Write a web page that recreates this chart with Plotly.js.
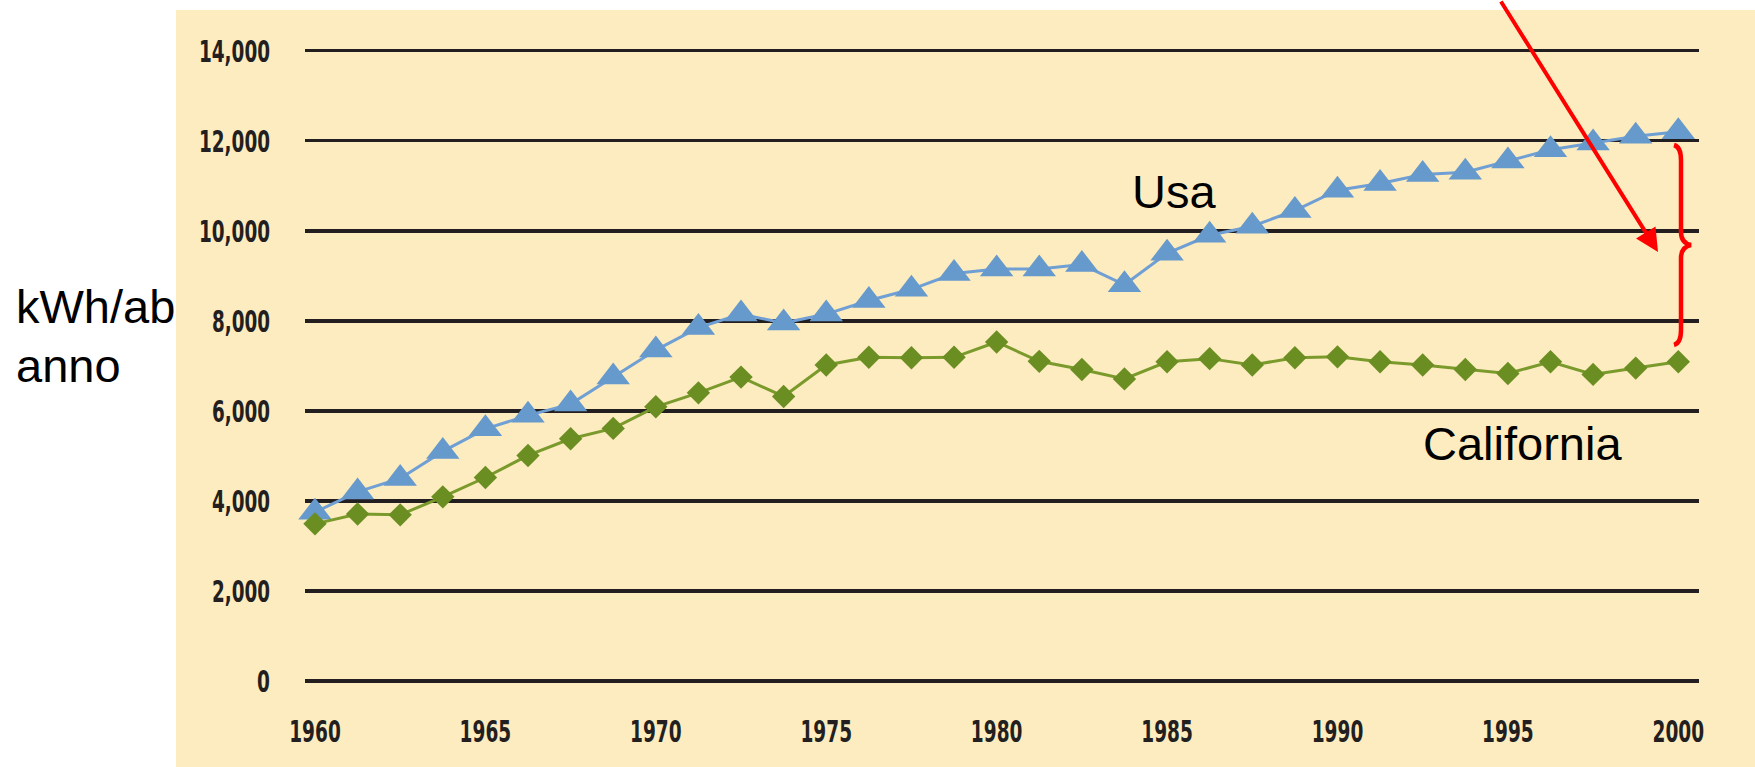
<!DOCTYPE html>
<html>
<head>
<meta charset="utf-8">
<script src="https://cdn.plot.ly/plotly-3.0.1.min.js"></script>
<style>
  html, body { margin: 0; padding: 0; background: #ffffff; }
  #chart { width: 1755px; height: 767px; }
</style>
</head>
<body>
<div id="chart"></div>
<script>
// ---- data (33 points, evenly spaced 1960-2000) ----
const years = [1960, 1961.25, 1962.5, 1963.75, 1965, 1966.25, 1967.5, 1968.75,
               1970, 1971.25, 1972.5, 1973.75, 1975, 1976.25, 1977.5, 1978.75,
               1980, 1981.25, 1982.5, 1983.75, 1985, 1986.25, 1987.5, 1988.75,
               1990, 1991.25, 1992.5, 1993.75, 1995, 1996.25, 1997.5, 1998.75, 2000];

const usa = [3750, 4200, 4500, 5100, 5600, 5900, 6150, 6750,
             7350, 7850, 8150, 7950, 8150, 8450, 8700, 9050,
             9150, 9150, 9250, 8800, 9500, 9900, 10100, 10450,
             10900, 11050, 11250, 11300, 11550, 11800, 11950, 12100, 12200];

const california = [3490, 3710, 3690, 4090, 4520, 5010, 5380, 5610,
                    6090, 6400, 6750, 6320, 7020, 7190, 7180, 7190,
                    7530, 7100, 6920, 6710, 7090, 7160, 7020, 7180,
                    7200, 7090, 7020, 6920, 6830, 7090, 6810, 6950, 7090];

const xTickVals = [1960, 1965, 1970, 1975, 1980, 1985, 1990, 1995, 2000];
const xTickText = ['1960', '1965', '1970', '1975', '1980', '1985', '1990', '1995', '2000'];
const yTickVals = [0, 2000, 4000, 6000, 8000, 10000, 12000, 14000];

const seriesNames = ['Usa', 'California'];
const yLabelLines = ['kWh/ab', 'anno'];

// ---- layout geometry ----
const FW = 1755, FH = 767;
const M = { l: 305, r: 56, t: 33, b: 68 };
const PW = FW - M.l - M.r, PH = FH - M.t - M.b;
const px = v => (v - M.l) / PW;          // pixel x -> paper x
const py = v => 1 - (v - M.t) / PH;      // pixel y -> paper y
const P = (x, y) => px(x).toFixed(5) + ',' + py(y).toFixed(5);

const YELLOW = '#fdecbf';
const DARK = '#231f20';
const tickFamily = '"Liberation Sans Narrow", "DejaVu Sans Condensed", "Arial Narrow", sans-serif';
const textFont = { family: '"Liberation Sans", Arial, sans-serif', size: 47, color: '#000000' };

const traces = [
  {
    x: years, y: usa, name: seriesNames[0], type: 'scatter', mode: 'lines+markers',
    line: { color: '#6f9fd4', width: 3 },
    marker: { symbol: 'triangle-up', size: 29, color: '#6699cc' },
    cliponaxis: false
  },
  {
    x: years, y: california, name: seriesNames[1], type: 'scatter', mode: 'lines+markers',
    line: { color: '#7a9a2c', width: 3 },
    marker: { symbol: 'diamond', size: 18, color: '#6b8e23' },
    cliponaxis: false
  }
];

const bracePath = 'M ' + P(1674, 145) +
  ' Q ' + P(1681, 147) + ' ' + P(1681, 160) +
  ' L ' + P(1681, 232) +
  ' Q ' + P(1681, 243) + ' ' + P(1691, 245) +
  ' Q ' + P(1681, 247) + ' ' + P(1681, 258) +
  ' L ' + P(1681, 330) +
  ' Q ' + P(1681, 343) + ' ' + P(1674, 345);

const layout = {
  width: FW, height: FH,
  margin: M,
  paper_bgcolor: '#ffffff',
  plot_bgcolor: YELLOW,
  showlegend: false,
  xaxis: {
    range: [1959.707, 2000.607],
    tickvals: xTickVals, ticktext: xTickText,
    showgrid: false, zeroline: false, showline: false, ticks: '',
    tickfont: { family: tickFamily, size: 30, color: DARK, weight: 'bold' },
    ticklabelstandoff: 12,
    automargin: false, fixedrange: true
  },
  yaxis: {
    range: [-400, 14393],
    tickvals: yTickVals, tickformat: ',d',
    showgrid: true, gridcolor: DARK, gridwidth: 3.5,
    zeroline: false, showline: false, ticks: '',
    tickfont: { family: tickFamily, size: 31, color: DARK, weight: 'bold' },
    ticklabelstandoff: 34,
    automargin: false, fixedrange: true
  },
  shapes: [
    { type: 'rect', xref: 'paper', yref: 'paper', layer: 'below',
      x0: px(176), x1: px(1760), y0: py(10), y1: py(775),
      fillcolor: YELLOW, line: { width: 0 } },
    { type: 'path', xref: 'paper', yref: 'paper', path: bracePath,
      line: { color: '#ff0000', width: 4.5 }, layer: 'above' }
  ],
  annotations: [
    { xref: 'paper', yref: 'paper', x: px(14), y: py(307), xanchor: 'left', yanchor: 'middle',
      text: yLabelLines[0], showarrow: false, font: textFont },
    { xref: 'paper', yref: 'paper', x: px(14), y: py(365.4), xanchor: 'left', yanchor: 'middle',
      text: yLabelLines[1], showarrow: false, font: textFont },
    { xref: 'paper', yref: 'paper', x: px(1130), y: py(191.7), xanchor: 'left', yanchor: 'middle',
      text: seriesNames[0], showarrow: false, font: textFont },
    { xref: 'paper', yref: 'paper', x: px(1421), y: py(443.7), xanchor: 'left', yanchor: 'middle',
      text: seriesNames[1], showarrow: false, font: textFont },
    { xref: 'paper', yref: 'paper', x: px(1658), y: py(252), text: '',
      showarrow: true, arrowhead: 2, arrowsize: 1.15, arrowwidth: 4, arrowcolor: '#ff0000',
      ax: -158, ay: -262, axref: 'pixel', ayref: 'pixel', standoff: 0 }
  ]
};

Plotly.newPlot('chart', traces, layout, { staticPlot: true, displayModeBar: false }).then(() => {
  // the reference tick labels use a tall, condensed face: squeeze the real text horizontally
  document.querySelectorAll('.xtick text, .ytick text').forEach(el => {
    const s = el.textContent || '';
    const digits = (s.match(/[0-9]/g) || []).length;
    const commas = (s.match(/,/g) || []).length;
    const target = digits * 12.9 + commas * 6.5;
    const w = el.getComputedTextLength();
    if (w > 0 && target > 0 && target < w) {
      el.setAttribute('textLength', target.toFixed(2));
      el.setAttribute('lengthAdjust', 'spacingAndGlyphs');
    }
  });
});
</script>
</body>
</html>
